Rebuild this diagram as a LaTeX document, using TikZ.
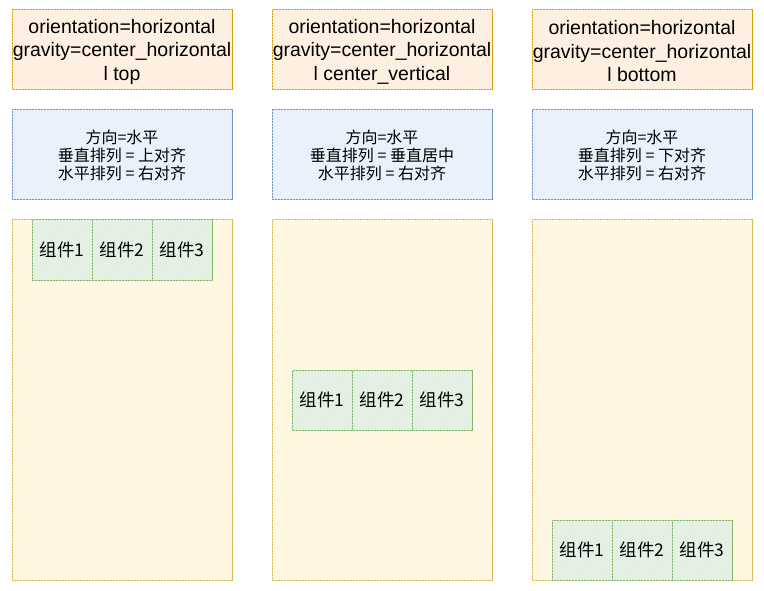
\documentclass[tikz,border=0pt]{standalone}
\usepackage{fontspec}
\setmainfont{Liberation Sans}
\newfontfamily\cjk{Noto Sans CJK SC}
\usetikzlibrary{patterns}
\definecolor{ostroke}{HTML}{D79B00}
\definecolor{ofill}{HTML}{FFE6CC}
\definecolor{ystroke}{HTML}{D6B656}
\definecolor{yfill}{HTML}{FFF2CC}
\definecolor{bstroke}{HTML}{6C8EBF}
\definecolor{bfill}{HTML}{DAE8FC}
\definecolor{gstroke}{HTML}{82B366}
\definecolor{gfill}{HTML}{D5E8D4}
\tikzset{
  titlebox/.style={draw=ostroke, fill=ofill!35, postaction={pattern=north east lines, pattern color=ofill}, line width=1pt, minimum width=220pt, minimum height=80pt, inner sep=0pt, align=center, font=\fontsize{19.5}{23.5}\selectfont},
  descbox/.style={draw=bstroke, fill=bfill!35, postaction={pattern=north east lines, pattern color=bfill}, line width=1pt, minimum width=220pt, minimum height=90pt, inner sep=0pt, align=center, font=\cjk\fontsize{16}{18}\selectfont},
  panel/.style={draw=ystroke, fill=yfill!35, postaction={pattern=north east lines, pattern color=yfill}, line width=1pt, minimum width=220pt, minimum height=360pt, inner sep=0pt},
  comp/.style={draw=gstroke, fill=gfill!45, postaction={pattern=north east lines, pattern color=gfill}, line width=1pt, minimum width=60pt, minimum height=60pt, inner sep=0pt, font=\cjk\fontsize{17.5}{19}\selectfont}
}
\begin{document}
\begin{tikzpicture}[x=1pt,y=-1pt]
\useasboundingbox (0,0) rectangle (764,591);
% column 1
\node[titlebox] (t1) at (122,50) {};
\node[align=center, font=\fontsize{19.5}{23.5}\selectfont] (t1t) at (122,51.5) {orientation=horizontal\\gravity=center\_horizontal\\l top};
\node[descbox] (d1) at (122,155) {方向=水平\\垂直排列 = 上对齐\\水平排列 = 右对齐};
\node[panel] (p1) at (122,400) {};
\node[comp] (a1) at (62,250) {组件1};
\node[comp] (a2) at (122,250) {组件2};
\node[comp] (a3) at (182,250) {组件3};
% column 2
\node[titlebox] (t2) at (382,50) {};
\node[align=center, font=\fontsize{19.5}{23.5}\selectfont] (t2t) at (382,51.5) {orientation=horizontal\\gravity=center\_horizontal\\l center\_vertical};
\node[descbox] (d2) at (382,155) {方向=水平\\垂直排列 = 垂直居中\\水平排列 = 右对齐};
\node[panel] (p2) at (382,400) {};
\node[comp] (b1) at (322,400) {组件1};
\node[comp] (b2) at (382,400) {组件2};
\node[comp] (b3) at (442,400) {组件3};
% column 3
\node[titlebox] (t3) at (642,50) {};
\node[align=center, font=\fontsize{19.5}{23.5}\selectfont] (t3t) at (642,51.5) {orientation=horizontal\\gravity=center\_horizontal\\l bottom};
\node[descbox] (d3) at (642,155) {方向=水平\\垂直排列 = 下对齐\\水平排列 = 右对齐};
\node[panel] (p3) at (642,400) {};
\node[comp] (c1) at (582,550) {组件1};
\node[comp] (c2) at (642,550) {组件2};
\node[comp] (c3) at (702,550) {组件3};
\end{tikzpicture}
\end{document}
